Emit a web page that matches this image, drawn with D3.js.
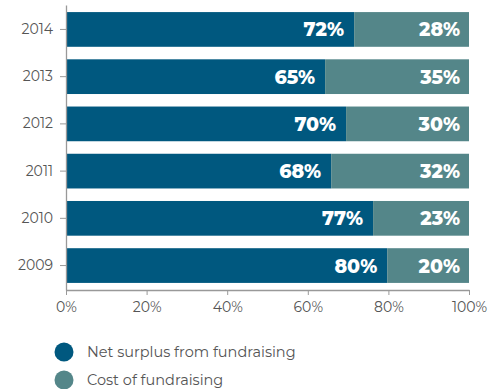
<!DOCTYPE html>
<html>
<head>
<meta charset="utf-8">
<script src="https://cdn.jsdelivr.net/npm/d3@7"></script>
<style>
  body { margin: 0; background: #fff; }
  svg { display: block; }
</style>
</head>
<body>
<script>
// years, top to bottom
const years = ["2014", "2013", "2012", "2011", "2010", "2009"];
// bar lengths as drawn (share of total, %)
const netSurplus = [71.5, 64.3, 69.5, 65.8, 76.2, 79.7];
const costShare = [28.5, 35.7, 30.5, 34.2, 23.8, 20.3];
// printed labels
const netLabels = ["72%", "65%", "70%", "68%", "77%", "80%"];
const costLabels = ["28%", "35%", "30%", "32%", "23%", "20%"];
const xTicks = [0, 20, 40, 60, 80, 100];
const seriesNames = ["Net surplus from fundraising", "Cost of fundraising"];
const colors = ["#00587f", "#548689"];

const width = 490;
const height = 389;
const font = "'Montserrat', 'Open Sans', sans-serif";

const svg = d3.select("body")
  .append("svg")
  .attr("width", width)
  .attr("height", height);

//Scales
const x = d3.scaleLinear().domain([0, 100]).range([66, 469]);
const y = d3.scaleBand().domain(years).range([5, 290])
  .paddingInner(0.265)
  .paddingOuter(0.15);

const rows = years.map((yr, i) => ({
  year: yr,
  net: netSurplus[i],
  cost: costShare[i],
  netLabel: netLabels[i],
  costLabel: costLabels[i]
}));

//Bars
svg.append("g").selectAll("rect")
  .data(rows)
  .join("rect")
  .attr("x", x(0))
  .attr("y", d => y(d.year))
  .attr("width", d => x(d.net) - x(0))
  .attr("height", y.bandwidth())
  .attr("fill", colors[0]);

svg.append("g").selectAll("rect")
  .data(rows)
  .join("rect")
  .attr("x", d => x(d.net))
  .attr("y", d => y(d.year))
  .attr("width", d => x(d.net + d.cost) - x(d.net))
  .attr("height", y.bandwidth())
  .attr("fill", colors[1]);

//Value labels
const labelStyle = sel => sel
  .attr("text-anchor", "end")
  .attr("fill", "#fff")
  .style("font-family", font)
  .style("font-weight", "800")
  .style("font-size", "19px");

svg.append("g").selectAll("text")
  .data(rows)
  .join("text")
  .call(labelStyle)
  .attr("x", d => x(d.net) - 10)
  .attr("y", d => y(d.year) + y.bandwidth() / 2 + 7)
  .text(d => d.netLabel);

svg.append("g").selectAll("text")
  .data(rows)
  .join("text")
  .call(labelStyle)
  .attr("x", d => x(d.net + d.cost) - 9)
  .attr("y", d => y(d.year) + y.bandwidth() / 2 + 7)
  .text(d => d.costLabel);

//Axes
const yAxis = svg.append("g")
  .attr("transform", `translate(${x(0)},0)`)
  .call(d3.axisLeft(y).tickSize(6).tickSizeOuter(0).tickPadding(7));

const xAxis = svg.append("g")
  .attr("transform", `translate(0,290)`)
  .call(d3.axisBottom(x).tickValues(xTicks).tickFormat(d => d + "%")
    .tickSize(5).tickSizeOuter(0).tickPadding(7));

[yAxis, xAxis].forEach(g => {
  g.select(".domain").attr("stroke", "#999").attr("stroke-width", 1.3);
  g.selectAll(".tick line").attr("stroke", "#999");
  g.selectAll(".tick text")
    .attr("fill", "#555")
    .style("font-family", font)
    .style("font-size", "14px");
});

//Legend
const legend = svg.append("g").selectAll("g")
  .data(seriesNames)
  .join("g")
  .attr("transform", (d, i) => `translate(64,${352 + i * 28})`);

legend.append("circle")
  .attr("r", 9.5)
  .attr("fill", (d, i) => colors[i]);

legend.append("text")
  .attr("x", 23)
  .attr("y", 5)
  .attr("fill", "#555")
  .style("font-family", font)
  .style("font-size", "14.5px")
  .text(d => d);
</script>
</body>
</html>
